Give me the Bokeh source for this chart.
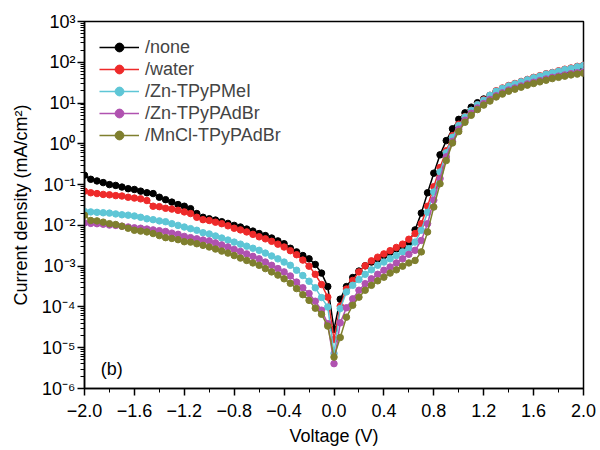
from bokeh.plotting import figure
from bokeh.models import FixedTicker, CustomJSTickFormatter, Legend, LegendItem, Label
from bokeh.embed import file_html
from bokeh.resources import INLINE

# ---------------- data (Voltage in V, current density in mA/cm^2) ----------------
voltage = [-2.00, -1.95, -1.90, -1.85, -1.80, -1.75, -1.70, -1.65, -1.60, -1.55,
           -1.50, -1.45, -1.40, -1.35, -1.30, -1.25, -1.20, -1.15, -1.10, -1.05,
           -1.00, -0.95, -0.90, -0.85, -0.80, -0.75, -0.70, -0.65, -0.60, -0.55,
           -0.50, -0.45, -0.40, -0.35, -0.30, -0.25, -0.20, -0.15, -0.10, -0.05,
           0.00, 0.05, 0.10, 0.15, 0.20, 0.25, 0.30, 0.35, 0.40, 0.45,
           0.50, 0.55, 0.60, 0.65, 0.70, 0.75, 0.80, 0.85, 0.90, 0.95,
           1.00, 1.05, 1.10, 1.15, 1.20, 1.25, 1.30, 1.35, 1.40, 1.45,
           1.50, 1.55, 1.60, 1.65, 1.70, 1.75, 1.80, 1.85, 1.90, 1.95, 2.00]

j_none = [1.70e-1, 1.35e-1, 1.23e-1, 1.12e-1, 1.00e-1, 9.55e-2, 8.71e-2, 7.94e-2, 7.59e-2, 6.92e-2,
          6.31e-2, 6.03e-2, 4.90e-2, 4.27e-2, 3.72e-2, 3.24e-2, 2.95e-2, 2.57e-2, 1.95e-2, 1.58e-2,
          1.45e-2, 1.35e-2, 1.23e-2, 1.12e-2, 1.00e-2, 9.12e-3, 8.13e-3, 7.24e-3, 6.31e-3, 5.62e-3,
          4.90e-3, 4.17e-3, 3.55e-3, 2.75e-3, 2.24e-3, 1.82e-3, 1.51e-3, 1.10e-3, 6.76e-4, 3.16e-4,
          2.82e-5, 1.55e-4, 3.16e-4, 5.25e-4, 7.59e-4, 1.02e-3, 1.26e-3, 1.51e-3, 1.82e-3, 2.19e-3,
          2.63e-3, 3.02e-3, 3.80e-3, 7.76e-3, 2.00e-2, 6.31e-2, 1.91e-1, 5.37e-1, 1.20, 2.34,
          3.98, 5.75, 7.94, 10.2, 12.6, 15.1, 19.1, 21.9, 25.1, 28.2,
          31.6, 35.5, 39.8, 43.7, 47.9, 52.5, 57.5, 61.7, 67.6, 72.4, 77.6]

j_water = [6.92e-2, 6.31e-2, 6.03e-2, 5.75e-2, 5.62e-2, 5.37e-2, 5.25e-2, 4.90e-2, 4.68e-2, 4.47e-2,
           4.07e-2, 2.95e-2, 2.88e-2, 2.63e-2, 2.51e-2, 2.34e-2, 2.14e-2, 1.95e-2, 1.58e-2, 1.38e-2,
           1.32e-2, 1.20e-2, 1.10e-2, 9.77e-3, 8.51e-3, 7.76e-3, 6.92e-3, 6.03e-3, 5.25e-3, 4.68e-3,
           4.07e-3, 3.47e-3, 2.95e-3, 2.40e-3, 1.91e-3, 1.41e-3, 1.00e-3, 6.31e-4, 3.55e-4, 1.74e-4,
           1.58e-5, 1.05e-4, 2.75e-4, 4.47e-4, 7.24e-4, 1.02e-3, 1.35e-3, 1.66e-3, 2.00e-3, 2.40e-3,
           2.88e-3, 3.47e-3, 4.57e-3, 6.31e-3, 1.10e-2, 2.95e-2, 8.91e-2, 2.63e-1, 6.76e-1, 1.58,
           3.02, 4.68, 6.61, 9.12, 12.0, 15.5, 20.0, 23.4, 26.9, 30.2,
           33.9, 38.0, 42.7, 46.8, 52.5, 56.2, 61.7, 67.6, 72.4, 79.4, 85.1]

j_zn_tpypmei = [2.19e-2, 2.14e-2, 2.09e-2, 2.04e-2, 2.00e-2, 1.91e-2, 1.82e-2, 1.78e-2, 1.70e-2, 1.58e-2,
                1.45e-2, 1.38e-2, 1.29e-2, 1.23e-2, 1.10e-2, 1.00e-2, 9.12e-3, 8.32e-3, 7.59e-3, 6.61e-3,
                6.17e-3, 5.50e-3, 4.90e-3, 4.37e-3, 3.89e-3, 3.47e-3, 3.09e-3, 2.75e-3, 2.45e-3, 2.09e-3,
                1.78e-3, 1.51e-3, 1.26e-3, 1.05e-3, 7.94e-4, 5.89e-4, 4.27e-4, 2.95e-4, 1.70e-4, 1.00e-4,
                7.24e-6, 9.12e-5, 2.34e-4, 3.39e-4, 4.68e-4, 6.31e-4, 8.13e-4, 1.05e-3, 1.26e-3, 1.51e-3,
                1.82e-3, 2.24e-3, 2.69e-3, 3.89e-3, 7.59e-3, 2.09e-2, 6.61e-2, 2.04e-1, 6.03e-1, 1.45,
                2.82, 4.57, 6.61, 9.12, 11.7, 15.5, 19.5, 22.9, 26.3, 29.5,
                33.1, 37.2, 41.7, 45.7, 51.3, 55.0, 60.3, 66.1, 70.8, 77.6, 83.2]

j_zn_tpypadbr = [1.15e-2, 1.12e-2, 1.10e-2, 1.07e-2, 1.02e-2, 1.00e-2, 9.55e-3, 9.12e-3, 8.71e-3, 8.51e-3,
                 8.13e-3, 7.76e-3, 7.41e-3, 7.08e-3, 6.46e-3, 6.03e-3, 5.37e-3, 5.01e-3, 4.68e-3, 4.37e-3,
                 4.17e-3, 3.72e-3, 3.31e-3, 2.95e-3, 2.57e-3, 2.29e-3, 2.00e-3, 1.74e-3, 1.51e-3, 1.26e-3,
                 1.05e-3, 8.71e-4, 7.24e-4, 5.75e-4, 4.07e-4, 2.95e-4, 2.14e-4, 1.38e-4, 8.32e-5, 3.89e-5,
                 4.07e-6, 4.07e-5, 9.55e-5, 1.58e-4, 2.57e-4, 3.72e-4, 4.90e-4, 6.31e-4, 7.94e-4, 9.55e-4,
                 1.20e-3, 1.51e-3, 1.95e-3, 2.45e-3, 4.27e-3, 1.10e-2, 4.17e-2, 1.41e-1, 4.79e-1, 1.15,
                 2.29, 3.80, 5.62, 7.59, 9.77, 12.3, 15.1, 17.8, 20.9, 23.4,
                 26.3, 29.5, 32.4, 35.5, 38.9, 42.7, 45.7, 49.0, 52.5, 55.0, 57.5]

j_mncl_tpypadbr = [1.78e-2, 1.32e-2, 1.29e-2, 1.20e-2, 1.10e-2, 1.05e-2, 9.55e-3, 8.51e-3, 7.59e-3, 7.24e-3,
                   6.92e-3, 6.31e-3, 5.62e-3, 5.01e-3, 4.79e-3, 4.47e-3, 3.98e-3, 3.89e-3, 3.55e-3, 3.24e-3,
                   2.95e-3, 2.63e-3, 2.34e-3, 2.09e-3, 1.82e-3, 1.58e-3, 1.38e-3, 1.20e-3, 1.05e-3, 8.71e-4,
                   7.24e-4, 6.03e-4, 4.90e-4, 3.80e-4, 2.82e-4, 2.00e-4, 1.45e-4, 9.33e-5, 6.61e-5, 3.39e-5,
                   5.89e-6, 1.78e-5, 5.62e-5, 1.10e-4, 1.74e-4, 2.57e-4, 3.39e-4, 4.37e-4, 5.37e-4, 6.76e-4,
                   8.13e-4, 1.00e-3, 1.20e-3, 1.38e-3, 2.24e-3, 6.92e-3, 2.82e-2, 1.05e-1, 3.89e-1, 1.05,
                   2.00, 3.39, 5.01, 6.92, 8.91, 11.2, 14.1, 16.6, 19.5, 21.9,
                   24.5, 27.5, 30.2, 33.1, 36.3, 39.8, 42.7, 45.7, 49.0, 51.3, 53.7]

series_names = ["/none", "/water", "/Zn-TPyPMeI", "/Zn-TPyPAdBr", "/MnCl-TPyPAdBr"]
series_values = [j_none, j_water, j_zn_tpypmei, j_zn_tpypadbr, j_mncl_tpypadbr]
series_colors = ["#000000", "#EE2A2A", "#5EC6D6", "#B052B0", "#7F7F2E"]

x_ticks = [-2.0, -1.6, -1.2, -0.8, -0.4, 0.0, 0.4, 0.8, 1.2, 1.6, 2.0]
x_tick_labels = ["\u22122.0", "\u22121.6", "\u22121.2", "\u22120.8", "\u22120.4", "0.0",
                 "0.4", "0.8", "1.2", "1.6", "2.0"]
x_minor_ticks = [-1.8, -1.4, -1.0, -0.6, -0.2, 0.2, 0.6, 1.0, 1.4, 1.8]
y_ticks = [1e-6, 1e-5, 1e-4, 1e-3, 1e-2, 1e-1, 1e0, 1e1, 1e2, 1e3]
y_tick_labels = ["10\u207b\u2076", "10\u207b\u2075", "10\u207b\u2074", "10\u207b\u00b3", "10\u207b\u00b2",
                 "10\u207b\u00b9", "10\u2070", "10\u00b9", "10\u00b2", "10\u00b3"]
y_minor_ticks = [m * d for d in y_ticks[:-1] for m in range(2, 10)]

FONT = "Liberation Sans"

p = figure(width=600, height=450, x_range=(-2.0, 2.0), y_range=(1e-6, 1e3),
           y_axis_type="log", output_backend="svg", toolbar_location=None,
           min_border_left=84, min_border_right=17, min_border_top=21, min_border_bottom=62)
p.background_fill_color = "white"
p.border_fill_color = "white"
p.xgrid.visible = False
p.ygrid.visible = False
p.outline_line_color = "black"
p.outline_line_width = 1.5

items = []
for name, vals, col in zip(series_names, series_values, series_colors):
    r1 = p.line(voltage, vals, line_color=col, line_width=1.5)
    r2 = p.scatter(voltage, vals, size=6.5, marker="circle", fill_color=col, line_color=col)
    items.append(LegendItem(label=name, renderers=[r1, r2]))

legend = Legend(items=items, location="top_left")
legend.label_text_font = FONT
legend.label_text_font_size = "18px"
legend.glyph_width = 40
legend.glyph_height = 22
legend.label_height = 22
legend.spacing = 0
legend.label_standoff = 6
legend.padding = 11
legend.margin = 4
legend.background_fill_alpha = 0
legend.border_line_alpha = 0
p.add_layout(legend)

xfmt = CustomJSTickFormatter(args=dict(tvals=x_ticks, tlabels=x_tick_labels), code="""
let best = 0, bd = Infinity;
for (let i = 0; i < tvals.length; i++) {
  const d = Math.abs(tvals[i] - tick);
  if (d < bd) { bd = d; best = i; }
}
return tlabels[best];
""")
yfmt = CustomJSTickFormatter(args=dict(tvals=y_ticks, tlabels=y_tick_labels), code="""
let best = 0, bd = Infinity;
for (let i = 0; i < tvals.length; i++) {
  const d = Math.abs(Math.log10(tvals[i]) - Math.log10(tick));
  if (d < bd) { bd = d; best = i; }
}
return tlabels[best];
""")

xa = p.xaxis[0]
xa.ticker = FixedTicker(ticks=x_ticks, minor_ticks=x_minor_ticks)
xa.formatter = xfmt
xa.axis_label = "Voltage (V)"
ya = p.yaxis[0]
ya.ticker = FixedTicker(ticks=y_ticks, minor_ticks=y_minor_ticks)
ya.formatter = yfmt
ya.axis_label = "Current density (mA/cm\u00b2)"

for ax in (xa, ya):
    ax.axis_line_color = "black"
    ax.axis_line_width = 1.5
    ax.major_tick_line_color = "black"
    ax.major_tick_line_width = 1.5
    ax.minor_tick_line_color = "black"
    ax.minor_tick_line_width = 1
    ax.major_tick_in = 0
    ax.major_tick_out = 7
    ax.minor_tick_in = 0
    ax.minor_tick_out = 4
    ax.major_label_text_font = FONT
    ax.major_label_text_font_size = "18px"
    ax.major_label_text_color = "black"
    ax.axis_label_text_font = FONT
    ax.axis_label_text_font_size = "18px"
    ax.axis_label_text_font_style = "normal"
    ax.axis_label_text_color = "black"

xa.major_label_standoff = 8
xa.axis_label_standoff = 6
ya.major_label_standoff = 2
ya.axis_label_standoff = 8

p.add_layout(Label(x=-1.87, y=1.7e-6, text="(b)", text_font=FONT, text_font_size="18px",
                   text_color="black"))

open("out.html", "w").write(file_html(p, INLINE))
